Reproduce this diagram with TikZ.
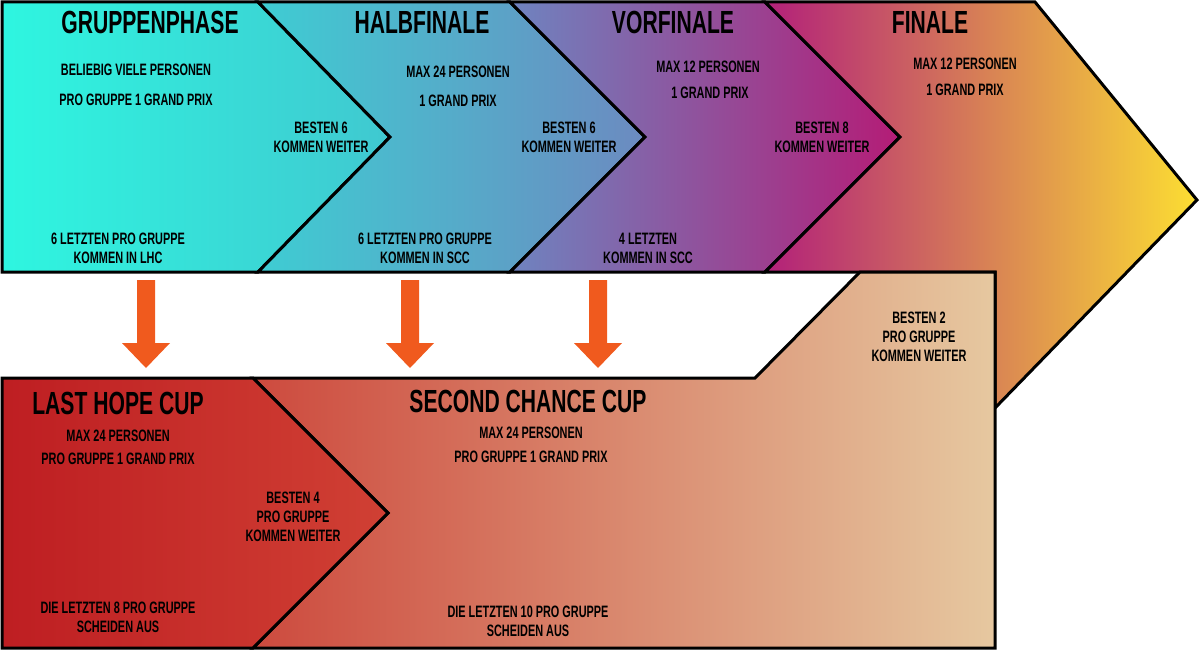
\documentclass[tikz,border=0pt]{standalone}
\usepackage{fontspec}
\setmainfont{Liberation Sans}[FakeStretch=0.66]
\begin{document}
\begin{tikzpicture}[x=1pt,y=-1pt,
  box/.style={draw=black,line width=3pt,line join=miter},
  ttl/.style={font=\bfseries\fontsize{32}{32}\selectfont,align=center,inner sep=0pt},
  txt/.style={font=\bfseries\fontsize{16.5}{19}\selectfont,align=center,inner sep=0pt}]
\useasboundingbox (0,0) rectangle (1200,650);
\definecolor{orangeA}{HTML}{F05A1E}
% top row
\path[box,left color={rgb,255:red,46;green,246;blue,224},right color={rgb,255:red,64;green,200;blue,208}]
  (2,2) -- (258,2) -- (390,137) -- (258,272) -- (2,272) -- cycle;
\path[box,left color={rgb,255:red,62;green,205;blue,211},right color={rgb,255:red,108;green,138;blue,192}]
  (258,2) -- (510,2) -- (645,137) -- (510,272) -- (258,272) -- (390,137) -- cycle;
\path[box,left color={rgb,255:red,110;green,132;blue,192},middle color={rgb,255:red,165;green,45;blue,140},right color={rgb,255:red,180;green,28;blue,118}]
  (510,2) -- (765,2) -- (900,137) -- (765,272) -- (510,272) -- (645,137) -- cycle;
\path[box,left color={rgb,255:red,178;green,32;blue,122},middle color={rgb,255:red,226;green,140;blue,80},right color={rgb,255:red,252;green,222;blue,50}]
  (765,2) -- (1035,2) -- (1197,200) -- (995,408) -- (995,272) -- (765,272) -- (900,137) -- cycle;
% bottom row
\path[box,left color={rgb,255:red,205;green,74;blue,62},right color={rgb,255:red,230;green,200;blue,160}]
  (253,378) -- (755,378) -- (860,272) -- (995,272) -- (995,648) -- (253,648) -- (388,513) -- cycle;
\path[box,left color={rgb,255:red,190;green,30;blue,34},right color={rgb,255:red,208;green,64;blue,52}]
  (2,378) -- (253,378) -- (388,513) -- (253,648) -- (2,648) -- cycle;
% arrows
\foreach \x in {146,410,598}{
  \fill[orangeA] (\x-9,280) -- (\x+9,280) -- (\x+9,343) -- (\x+24,343) -- (\x,368) -- (\x-24,343) -- (\x-9,343) -- cycle;}
% texts
\node[ttl] (t1) at (150,22) {GRUPPENPHASE};
\node[txt] (a1) at (136,70) {BELIEBIG VIELE PERSONEN};
\node[txt] (a2) at (136,100) {PRO GRUPPE 1 GRAND PRIX};
\node[txt] (a3) at (321,137) {BESTEN 6\\KOMMEN WEITER};
\node[txt] (a4) at (118,248) {6 LETZTEN PRO GRUPPE\\KOMMEN IN LHC};
\node[ttl] (t2) at (422,22) {HALBFINALE};
\node[txt] (b1) at (458,72) {MAX 24 PERSONEN};
\node[txt] (b2) at (458,101) {1 GRAND PRIX};
\node[txt] (b3) at (569,137) {BESTEN 6\\KOMMEN WEITER};
\node[txt] (b4) at (425,248) {6 LETZTEN PRO GRUPPE\\KOMMEN IN SCC};
\node[ttl] (t3) at (673,22) {VORFINALE};
\node[txt] (c1) at (708,67) {MAX 12 PERSONEN};
\node[txt] (c2) at (710,93) {1 GRAND PRIX};
\node[txt] (c3) at (822,137) {BESTEN 8\\KOMMEN WEITER};
\node[txt] (c4) at (648,248) {4 LETZTEN\\KOMMEN IN SCC};
\node[ttl] (t4) at (930,22) {FINALE};
\node[txt] (d1) at (965,64) {MAX 12 PERSONEN};
\node[txt] (d2) at (965,90) {1 GRAND PRIX};
\node[txt] (e1) at (919,337) {BESTEN 2\\PRO GRUPPE\\KOMMEN WEITER};
\node[ttl] (t5) at (118,403) {LAST HOPE CUP};
\node[txt] (f1) at (118,436) {MAX 24 PERSONEN};
\node[txt] (f2) at (118,459) {PRO GRUPPE 1 GRAND PRIX};
\node[txt] (f3) at (293,517) {BESTEN 4\\PRO GRUPPE\\KOMMEN WEITER};
\node[txt] (f4) at (118,617) {DIE LETZTEN 8 PRO GRUPPE\\SCHEIDEN AUS};
\node[ttl] (t6) at (528,401) {SECOND CHANCE CUP};
\node[txt] (g1) at (531,433) {MAX 24 PERSONEN};
\node[txt] (g2) at (531,457) {PRO GRUPPE 1 GRAND PRIX};
\node[txt] (g3) at (528,621) {DIE LETZTEN 10 PRO GRUPPE\\SCHEIDEN AUS};
\end{tikzpicture}
\end{document}
